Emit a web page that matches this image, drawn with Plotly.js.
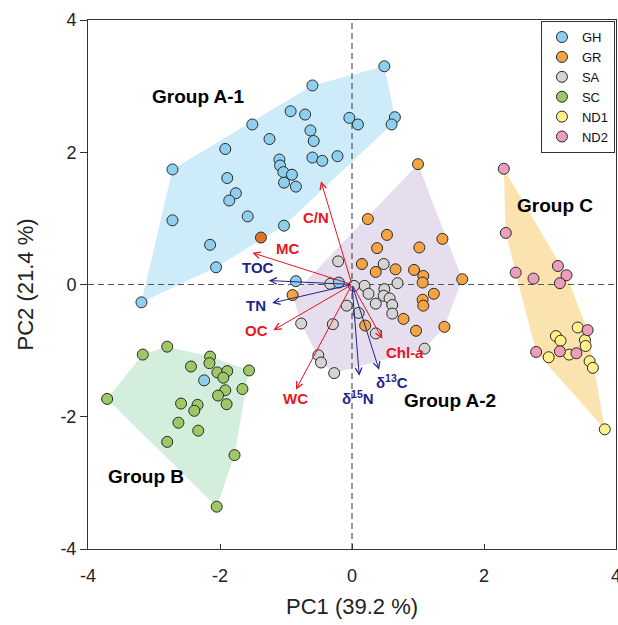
<!DOCTYPE html>
<html><head><meta charset="utf-8">
<script src="https://cdn.plot.ly/plotly-3.0.1.min.js"></script>
<style>html,body{margin:0;padding:0;background:#fff}#chart{width:618px;height:625px}</style>
</head><body><div id="chart"></div>
<script>
// ---------------- DATA ----------------
const seriesNames = ['GH', 'GR', 'SA', 'SC', 'ND1', 'ND2'];

const GH_x = [-0.60,-0.93,-0.71,-1.51,-1.25,-0.63,-0.58,-1.92,-0.04,0.09,0.49,0.65,0.60,-0.60,-0.45,-0.22,-2.72,-1.10,-1.09,-1.04,-0.91,-1.03,-0.85,-1.89,-1.76,-1.86,-2.72,-1.58,-1.03,-2.15,-2.06,-3.19,-0.85,-0.20,-2.24];
const GH_y = [3.01,2.62,2.57,2.42,2.20,2.33,2.17,2.05,2.52,2.42,3.30,2.53,2.42,1.92,1.87,1.94,1.74,1.89,1.80,1.70,1.66,1.54,1.48,1.61,1.38,1.27,0.97,1.03,0.89,0.60,0.26,-0.27,0.05,0.03,-1.45];
const GH_group = ['A-1','A-1','A-1','A-1','A-1','A-1','A-1','A-1','A-1','A-1','A-1','A-1','A-1','A-1','A-1','A-1','A-1','A-1','A-1','A-1','A-1','A-1','A-1','A-1','A-1','A-1','A-1','A-1','A-1','A-1','A-1','A-1','','',''];

const GR_x = [1.00,0.24,0.53,0.38,1.02,1.37,0.15,0.36,0.66,0.94,1.08,1.07,1.67,1.24,1.07,1.08,0.78,0.20,0.97,1.40,-0.90];
const GR_y = [1.82,0.99,0.75,0.55,0.56,0.69,0.31,0.19,0.23,0.22,0.13,0.03,0.08,-0.14,-0.23,-0.32,-0.52,-0.62,-0.70,-0.64,-0.16];
const GR_group = GR_x.map(() => 'A-2');
// one GR sample plotted in a darker shade in the original
const GRdark_x = [-1.38];
const GRdark_y = [0.71];

const SA_x = [-0.21,0.48,0.69,0.19,0.25,0.49,0.48,0.57,0.61,0.36,0.61,-0.08,0.10,-0.33,0.03,-0.77,-0.29,-0.51,-0.47,-0.27,0.36,1.10];
const SA_y = [0.35,0.31,0.02,-0.02,-0.14,-0.07,-0.17,-0.21,-0.31,-0.29,-0.44,-0.32,-0.43,0.01,-0.02,-0.59,-0.60,-1.07,-1.18,-1.34,-0.74,-0.97];
const SA_group = SA_x.map(() => 'A-2');

const SC_x = [-3.71,-3.17,-2.80,-2.15,-2.16,-2.44,-2.04,-1.89,-1.95,-1.56,-1.66,-1.92,-2.03,-1.90,-2.59,-2.34,-2.39,-2.63,-2.33,-2.80,-1.78,-2.05];
const SC_y = [-1.73,-1.06,-0.94,-1.09,-1.19,-1.24,-1.33,-1.31,-1.41,-1.30,-1.58,-1.60,-1.68,-1.81,-1.80,-1.82,-1.91,-2.09,-2.21,-2.38,-2.58,-3.36];
const SC_group = SC_x.map(() => 'B');

const ND1_x = [3.42,3.09,3.16,3.53,3.54,2.98,3.29,3.60,3.65,3.83];
const ND1_y = [-0.65,-0.78,-0.85,-0.84,-0.93,-1.10,-1.06,-1.16,-1.26,-2.19];
const ND1_group = ND1_x.map(() => 'C');

const ND2_x = [2.30,2.33,2.48,2.75,3.12,3.25,3.15,3.57,2.79,3.15,3.40];
const ND2_y = [1.75,0.78,0.18,0.09,0.28,0.14,0.02,-0.69,-1.02,-1.01,-1.04];
const ND2_group = ND2_x.map(() => 'C');

const groupNames = ['A-1', 'A-2', 'B', 'C'];

// loading vectors (arrows from origin)
const loadingNames = ['C/N', 'MC', 'TOC', 'TN', 'OC', 'WC', 'δ<sup>15</sup>N', 'δ<sup>13</sup>C', 'Chl-<i>a</i>'];
const loadingX = [-0.47, -1.51, -1.26, -1.21, -1.19, -0.85, 0.11, 0.41, 0.46];
const loadingY = [1.56, 0.48, 0.06, -0.28, -0.69, -1.59, -1.38, -1.29, -0.82];

const xTicks = [-4, -2, 0, 2, 4];
const yTicks = [-4, -2, 0, 2, 4];

// ---------------- STYLE ----------------
const FONT = 'Liberation Sans, Arial, Helvetica, sans-serif';
const RED = '#E8141E', NAVY = '#1F248C';
const seriesColor = {GH:'#8ECFF0', GR:'#F5A444', SA:'#D4D4D4', SC:'#9CC866', ND1:'#FFF08C', ND2:'#EE9DBD'};
const hullColor = {'A-1':'#CDEBF8', 'A-2':'#E6DEEE', 'B':'#D4EEDD', 'C':'#FBE3AF'};
const loadingColor = [RED, RED, NAVY, NAVY, RED, RED, NAVY, NAVY, RED];
// label positions for loadings and groups (data coords)
const loadingLabelPos = [[-0.55,1.02],[-0.97,0.55],[-1.43,0.25],[-1.46,-0.31],[-1.44,-0.69],[-0.85,-1.72],[0.09,-1.71],[0.61,-1.47],[0.81,-1.03]];
const groupLabelPos = {'A-1':[-2.32,2.85], 'A-2':[1.48,-1.75], 'B':[-3.12,-2.91], 'C':[3.08,1.20]};

// ---------------- BUILD ----------------
const series = {
  GH:[GH_x,GH_y,GH_group], GR:[GR_x,GR_y,GR_group], SA:[SA_x,SA_y,SA_group],
  SC:[SC_x,SC_y,SC_group], ND1:[ND1_x,ND1_y,ND1_group], ND2:[ND2_x,ND2_y,ND2_group]
};

function convexHull(pts){
  pts = pts.slice().sort((a,b)=> a[0]-b[0] || a[1]-b[1]);
  const cross=(o,a,b)=>(a[0]-o[0])*(b[1]-o[1])-(a[1]-o[1])*(b[0]-o[0]);
  const lower=[], upper=[];
  for(const p of pts){ while(lower.length>=2 && cross(lower[lower.length-2],lower[lower.length-1],p)<=0) lower.pop(); lower.push(p); }
  for(let i=pts.length-1;i>=0;i--){ const p=pts[i]; while(upper.length>=2 && cross(upper[upper.length-2],upper[upper.length-1],p)<=0) upper.pop(); upper.push(p); }
  upper.pop(); lower.pop();
  return lower.concat(upper);
}

const traces = [];
groupNames.forEach(g => {
  const pts = [];
  seriesNames.forEach(s => {
    const [xs, ys, gs] = series[s];
    xs.forEach((x,i) => { if (gs[i] === g) pts.push([x, ys[i]]); });
  });
  const h = convexHull(pts);
  h.push(h[0]);
  traces.push({type:'scatter', mode:'lines', x:h.map(p=>p[0]), y:h.map(p=>p[1]), fill:'toself',
    fillcolor: hullColor[g], line:{width:0, color:hullColor[g]}, hoverinfo:'skip', showlegend:false});
});

// dashed reference lines through the origin
traces.push({type:'scatter', mode:'lines', x:[0,0], y:[yTicks[0], yTicks[yTicks.length-1]], line:{color:'#333', width:1, dash:'6px,4px'}, hoverinfo:'skip', showlegend:false});
traces.push({type:'scatter', mode:'lines', x:[xTicks[0], xTicks[xTicks.length-1]], y:[0,0], line:{color:'#555', width:1, dash:'6px,4px'}, hoverinfo:'skip', showlegend:false});

const markerLine = {color:'#2A2A2A', width:1};
const drawOrder = ['SA', 'GR', 'SC', 'ND1', 'ND2', 'GH'];
drawOrder.forEach(s => {
  const [xs, ys] = series[s];
  traces.push({type:'scatter', mode:'markers', name:s, x:xs, y:ys,
    legendrank: seriesNames.indexOf(s)+1,
    marker:{size:11, color:seriesColor[s], line:markerLine}});
});
traces.push({type:'scatter', mode:'markers', name:'GR', x:GRdark_x, y:GRdark_y, showlegend:false,
  marker:{size:11, color:'#DE7328', line:markerLine}});

const annotations = [];
loadingNames.forEach((n,i) => {
  annotations.push({x:loadingX[i], y:loadingY[i], ax:0, ay:0, xref:'x', yref:'y', axref:'x', ayref:'y',
    text:'', showarrow:true, arrowhead:5, arrowsize:1.3, arrowwidth:1, arrowcolor:loadingColor[i]});
  annotations.push({x:loadingLabelPos[i][0], y:loadingLabelPos[i][1], xref:'x', yref:'y', text:'<b>'+n+'</b>',
    showarrow:false, font:{family:FONT, size:15, color:loadingColor[i]}});
});
groupNames.forEach(g => {
  annotations.push({x:groupLabelPos[g][0], y:groupLabelPos[g][1], xref:'x', yref:'y', text:'<b>Group '+g+'</b>',
    showarrow:false, font:{family:FONT, size:19, color:'#000'}});
});

const layout = {
  width:618, height:625,
  margin:{l:88, r:2, t:20, b:76},
  paper_bgcolor:'#fff', plot_bgcolor:'#fff',
  font:{family:FONT, color:'#222'},
  showlegend:true,
  legend:{x:0.998, xanchor:'right', y:0.998, yanchor:'top', bgcolor:'#fff', bordercolor:'#333', borderwidth:1,
    font:{family:FONT, size:13, color:'#111'}, itemwidth:30, tracegroupgap:0},
  xaxis:{range:[-4,4], tickvals:xTicks, ticktext:xTicks.map(String), ticks:'inside', ticklen:5, tickcolor:'#333',
    showline:true, mirror:true, linecolor:'#333', linewidth:1, showgrid:false, zeroline:false,
    tickfont:{family:FONT, size:18, color:'#222'}, ticklabelstandoff:10, ticklabeloverflow:'allow',
    title:{text:'PC1 (39.2 %)', font:{family:FONT, size:22, color:'#222'}, standoff:14}},
  yaxis:{range:[-4,4], tickvals:yTicks, ticktext:yTicks.map(String), ticks:'outside', ticklen:7, tickcolor:'#333',
    showline:true, mirror:true, linecolor:'#333', linewidth:1, showgrid:false, zeroline:false,
    tickfont:{family:FONT, size:18, color:'#222'},
    title:{text:'PC2 (21.4 %)', font:{family:FONT, size:22, color:'#222'}, standoff:20}},
  annotations: annotations
};

Plotly.newPlot('chart', traces, layout, {displayModeBar:false, staticPlot:true});
</script>
</body></html>
